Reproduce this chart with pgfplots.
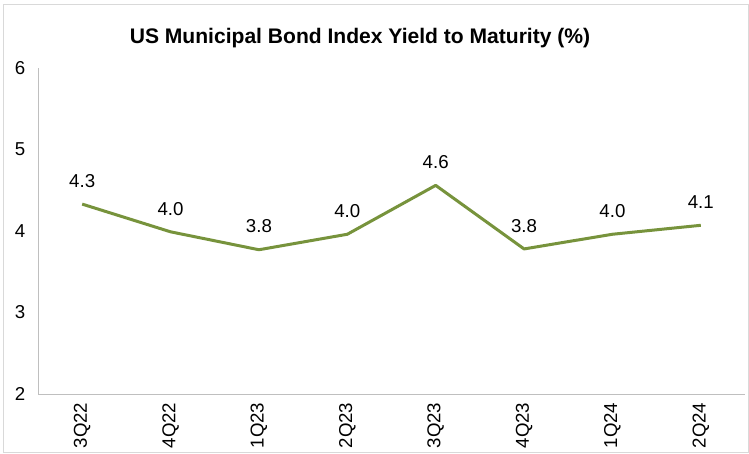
\documentclass[border=0pt]{standalone}
\usepackage{fontspec}
\setmainfont{Liberation Sans}
\usepackage{pgfplots}
\pgfplotsset{compat=1.18}
\definecolor{linegreen}{HTML}{77933C}
\definecolor{axgray}{HTML}{BFBFBF}
\definecolor{framegray}{HTML}{D9D9D9}
\begin{document}
\begin{tikzpicture}
\path[use as bounding box] (0,0) rectangle (561.75pt,339.75pt);
\draw[framegray, line width=0.75pt] (2.6pt,0.4pt) rectangle (561.3pt,336.2pt);
\node[font=\fontsize{15.8}{18}\selectfont\bfseries] at (270pt,311.5pt) {US Municipal Bond Index Yield to Maturity (\%)};
\begin{axis}[
  at={(28.5pt,44.25pt)}, anchor=south west,
  scale only axis, width=530.25pt, height=244.5pt,
  xmin=-0.5, xmax=7.5, ymin=2, ymax=6,
  ytick={2,3,4,5,6},
  xtick={0,...,7},
  xticklabels={3Q22,4Q22,1Q23,2Q23,3Q23,4Q23,1Q24,2Q24},
  axis x line*=bottom, axis y line*=left,
  axis line style={axgray, line width=0.75pt, -},
  major tick length=0pt,
  tick label style={font=\fontsize{14}{16}\selectfont, black},
  /pgf/number format/assume math mode=true,
  yticklabel style={anchor=east, xshift=-6pt},
  xticklabel style={rotate=90, anchor=east, yshift=0pt, xshift=-3pt},
  clip=false,
]
\addplot[linegreen, line width=2.25pt, line join=round, mark=none,
  nodes near coords, point meta=explicit symbolic,
  every node near coord/.append style={font=\fontsize{14}{16}\selectfont, black, anchor=south, yshift=8pt}]
  table[meta=lab] {
x y lab
0 4.33 4.3
1 3.99 4.0
2 3.77 3.8
3 3.96 4.0
4 4.56 4.6
5 3.78 3.8
6 3.96 4.0
7 4.07 4.1
};
\end{axis}
\end{tikzpicture}
\end{document}
